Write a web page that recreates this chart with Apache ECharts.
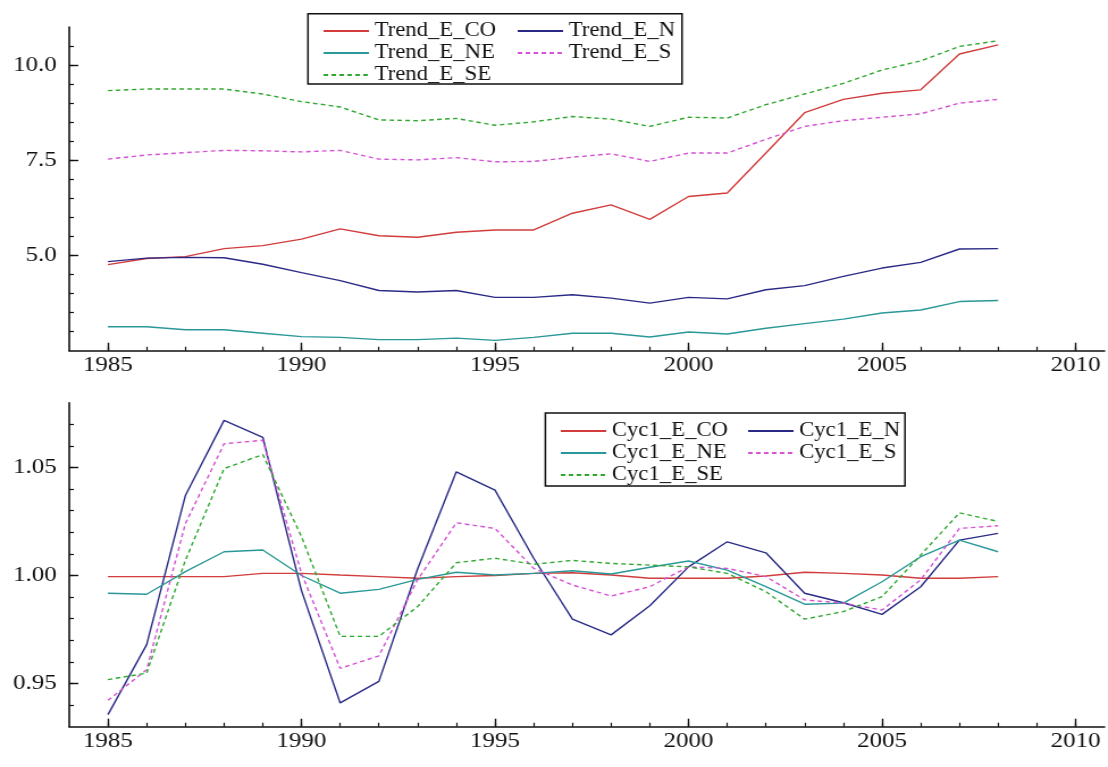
<!DOCTYPE html>
<html>
<head>
<meta charset="utf-8">
<script src="https://cdn.jsdelivr.net/npm/echarts@6/dist/echarts.min.js"></script>
<style>
  html, body { margin: 0; padding: 0; background: #fff; overflow: hidden; }
  #wrap { width: 1108px; height: 767px; overflow: hidden; }
  /* the plot is laid out on a narrower canvas and stretched horizontally */
  #chart { width: 976px; height: 767px; transform: scaleX(1.1352); transform-origin: 0 0; }
</style>
</head>
<body>
<div id="wrap"><div id="chart"></div></div>
<script>
// ---- data ----
const years = [1985, 1986, 1987, 1988, 1989, 1990, 1991, 1992, 1993, 1994, 1995, 1996,
               1997, 1998, 1999, 2000, 2001, 2002, 2003, 2004, 2005, 2006, 2007, 2008];

const trendCO = [4.76, 4.92, 4.97, 5.18, 5.26, 5.43, 5.70, 5.52, 5.48, 5.61, 5.67, 5.67,
                 6.11, 6.33, 5.95, 6.55, 6.64, 7.69, 8.75, 9.10, 9.26, 9.35, 10.29, 10.53];
const trendN  = [4.84, 4.93, 4.95, 4.94, 4.77, 4.55, 4.34, 4.08, 4.04, 4.08, 3.90, 3.90,
                 3.97, 3.88, 3.75, 3.90, 3.86, 4.10, 4.21, 4.45, 4.67, 4.82, 5.17, 5.18];
const trendNE = [3.13, 3.13, 3.05, 3.05, 2.96, 2.87, 2.85, 2.79, 2.79, 2.83, 2.77, 2.85,
                 2.96, 2.96, 2.86, 2.99, 2.94, 3.09, 3.21, 3.33, 3.49, 3.57, 3.79, 3.82];
const trendS  = [7.53, 7.64, 7.70, 7.76, 7.75, 7.72, 7.76, 7.53, 7.51, 7.57, 7.46, 7.47,
                 7.58, 7.67, 7.47, 7.69, 7.69, 8.05, 8.39, 8.54, 8.63, 8.72, 9.00, 9.10];
const trendSE = [9.33, 9.37, 9.37, 9.37, 9.24, 9.04, 8.90, 8.56, 8.54, 8.60, 8.42, 8.51,
                 8.65, 8.58, 8.39, 8.63, 8.61, 8.96, 9.24, 9.52, 9.87, 10.11, 10.49, 10.64];

const cycCO = [0.9995, 0.9995, 0.9995, 0.9995, 1.0010, 1.0010, 1.0002, 0.9995, 0.9987, 0.9995, 1.0000, 1.0010,
               1.0013, 1.0002, 0.9987, 0.9987, 0.9987, 0.9998, 1.0015, 1.0010, 1.0002, 0.9987, 0.9987, 0.9995];
const cycN  = [0.9356, 0.9680, 1.0370, 1.0718, 1.0640, 0.9930, 0.9410, 0.9510, 1.0030, 1.0480, 1.0395, 1.0080,
               0.9798, 0.9725, 0.9860, 1.0040, 1.0156, 1.0105, 0.9918, 0.9874, 0.9820, 0.9948, 1.0164, 1.0195];
const cycNE = [0.9918, 0.9913, 1.0018, 1.0110, 1.0118, 1.0000, 0.9918, 0.9936, 0.9982, 1.0015, 1.0002, 1.0010,
               1.0022, 1.0007, 1.0038, 1.0067, 1.0025, 0.9948, 0.9867, 0.9872, 0.9971, 1.0087, 1.0164, 1.0110];
const cycS  = [0.9422, 0.9564, 1.0240, 1.0610, 1.0626, 1.0010, 0.9570, 0.9628, 0.9980, 1.0244, 1.0218, 1.0033,
               0.9956, 0.9905, 0.9948, 1.0040, 1.0033, 0.9995, 0.9887, 0.9872, 0.9840, 0.9980, 1.0218, 1.0230];
const cycSE = [0.9518, 0.9548, 1.0070, 1.0495, 1.0560, 1.0180, 0.9718, 0.9718, 0.9856, 1.0059, 1.0080, 1.0052,
               1.0070, 1.0056, 1.0048, 1.0040, 1.0010, 0.9925, 0.9798, 0.9833, 0.9902, 1.0095, 1.0290, 1.0250];

// ---- tick positions ----
const xMajorTicks = [1985, 1990, 1995, 2000, 2005, 2010];
const xMinorTicks = [1985, 1986, 1987, 1988, 1989, 1990, 1991, 1992, 1993, 1994, 1995, 1996, 1997,
                     1998, 1999, 2000, 2001, 2002, 2003, 2004, 2005, 2006, 2007, 2008, 2009, 2010];
const trendMajorTicks = [5.0, 7.5, 10.0];
const trendMinorTicks = [3.0, 3.5, 4.0, 4.5, 5.0, 5.5, 6.0, 6.5, 7.0, 7.5, 8.0, 8.5, 9.0, 9.5, 10.0, 10.5];
const cycMajorTicks = [0.95, 1.00, 1.05];
const cycMinorTicks = [0.94, 0.95, 0.96, 0.97, 0.98, 0.99, 1.00, 1.01, 1.02, 1.03, 1.04, 1.05, 1.06, 1.07];

// ---- styling ----
const FONT = '"Liberation Serif", "DejaVu Serif", serif';
const C = {
  CO: '#d23c3c',
  N:  '#2a2a86',
  NE: '#2a9898',
  S:  '#d452d4',
  SE: '#30a830'
};
const DASH = [4, 3];

function xAxes(gridIndex) {
  return [
    {
      type: 'value', gridIndex, position: 'bottom', min: 1984, max: 2010.75,
      axisLine: { show: true, onZero: false, lineStyle: { color: '#111', width: 1.6 } },
      axisTick: { show: true, inside: true, length: 8, customValues: xMajorTicks,
                  lineStyle: { color: '#111', width: 1.4 } },
      axisLabel: { show: true, customValues: xMajorTicks, fontFamily: FONT, fontSize: 22,
                   color: '#111', margin: 4, formatter: v => String(v) },
      splitLine: { show: false }
    },
    {
      type: 'value', gridIndex, position: 'bottom', offset: 0, min: 1984, max: 2010.75,
      axisLine: { show: false, onZero: false },
      axisTick: { show: true, inside: true, length: 4, customValues: xMinorTicks,
                  lineStyle: { color: '#111', width: 1.2 } },
      axisLabel: { show: false },
      splitLine: { show: false }
    }
  ];
}

function yAxes(gridIndex, min, max, major, minor, digits) {
  return [
    {
      type: 'value', gridIndex, position: 'left', min, max,
      axisLine: { show: true, onZero: false, lineStyle: { color: '#111', width: 1.6 } },
      axisTick: { show: true, inside: true, length: 8, customValues: major,
                  lineStyle: { color: '#111', width: 1.4 } },
      axisLabel: { show: true, customValues: major, fontFamily: FONT, fontSize: 22,
                   color: '#111', margin: 11, formatter: v => Number(v).toFixed(digits) },
      splitLine: { show: false }
    },
    {
      type: 'value', gridIndex, position: 'left', offset: 0, min, max,
      axisLine: { show: false, onZero: false },
      axisTick: { show: true, inside: true, length: 4, customValues: minor,
                  lineStyle: { color: '#111', width: 1.2 } },
      axisLabel: { show: false },
      splitLine: { show: false }
    }
  ];
}

function lineSeries(name, values, color, dashed, axisIndex) {
  return {
    name, type: 'line', xAxisIndex: axisIndex, yAxisIndex: axisIndex,
    data: years.map((y, i) => [y, values[i]]),
    symbol: 'none', smooth: false,
    lineStyle: { color, width: 1.4, type: dashed ? DASH : 'solid' },
    itemStyle: { color },
    emphasis: { disabled: true },
    z: 3
  };
}

// legend keys are plain line samples, no marker
function legendColumn(names, left, top) {
  return {
    data: names, orient: 'vertical', left, top,
    itemWidth: 40, itemHeight: 14, itemGap: 2,
    selectedMode: false,
    itemStyle: { opacity: 0 },
    textStyle: { fontFamily: FONT, fontSize: 20, lineHeight: 20, color: '#111' }
  };
}

const chart = echarts.init(document.getElementById('chart'), null, { renderer: 'canvas' });

chart.setOption({
  animation: false,
  backgroundColor: '#fff',
  grid: [
    { left: 61, right: 3, top: 27, height: 323.7 },
    { left: 61, right: 3, top: 402.7, height: 324 }
  ],
  xAxis: [...xAxes(0), ...xAxes(1)],
  yAxis: [
    ...yAxes(0, 2.5, 11, trendMajorTicks, trendMinorTicks, 1),
    ...yAxes(1, 0.93, 1.08, cycMajorTicks, cycMinorTicks, 2)
  ],
  legend: [
    legendColumn(['Trend_E_CO', 'Trend_E_NE', 'Trend_E_SE'], 279, 16),
    legendColumn(['Trend_E_N', 'Trend_E_S'], 450, 16),
    legendColumn(['Cyc1_E_CO', 'Cyc1_E_NE', 'Cyc1_E_SE'], 488, 416),
    legendColumn(['Cyc1_E_N', 'Cyc1_E_S'], 653, 416)
  ],
  graphic: [
    { type: 'rect', shape: { x: 271.3, y: 13.7, width: 329.5, height: 70.3 },
      style: { fill: 'none', stroke: '#111', lineWidth: 1.5 }, silent: true },
    { type: 'rect', shape: { x: 480.4, y: 413, width: 316.8, height: 73 },
      style: { fill: 'none', stroke: '#111', lineWidth: 1.5 }, silent: true }
  ],
  series: [
    lineSeries('Trend_E_CO', trendCO, C.CO, false, 0),
    lineSeries('Trend_E_N',  trendN,  C.N,  false, 0),
    lineSeries('Trend_E_NE', trendNE, C.NE, false, 0),
    lineSeries('Trend_E_S',  trendS,  C.S,  true,  0),
    lineSeries('Trend_E_SE', trendSE, C.SE, true,  0),
    lineSeries('Cyc1_E_CO', cycCO, C.CO, false, 2),
    lineSeries('Cyc1_E_N',  cycN,  C.N,  false, 2),
    lineSeries('Cyc1_E_NE', cycNE, C.NE, false, 2),
    lineSeries('Cyc1_E_S',  cycS,  C.S,  true,  2),
    lineSeries('Cyc1_E_SE', cycSE, C.SE, true,  2)
  ]
});
</script>
</body>
</html>
